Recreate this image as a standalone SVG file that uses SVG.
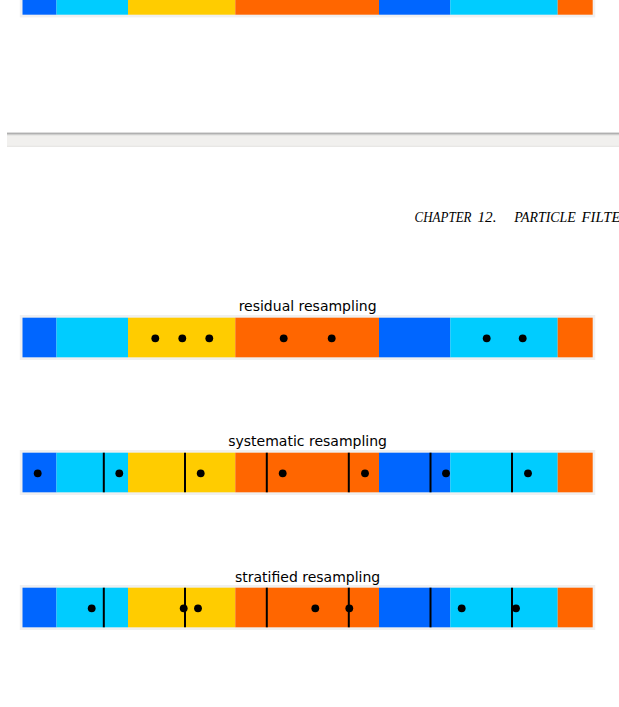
<svg xmlns="http://www.w3.org/2000/svg" xmlns:xlink="http://www.w3.org/1999/xlink" width="619" height="707" viewBox="0 0 619 707">
<style>
.frame{fill:#f0f0f0}
.b{fill:#0066ff}.c{fill:#00ccff}.y{fill:#ffcc00}.o{fill:#ff6600}
.dot{fill:#000}
.tick{stroke:#000;stroke-width:2}
.title{font-family:"DejaVu Sans",sans-serif;font-size:14px;fill:#000;text-anchor:middle}
.hdr{font-family:"Liberation Serif",serif;font-style:italic;font-size:14px;fill:#000}
</style>
<defs>
<g id="bar">
<rect class="frame" x="19.8" y="-2.7" width="575.5" height="45"/>
<rect class="b" x="22.5" y="0" width="34" height="39.6"/>
<rect class="c" x="56.5" y="0" width="71.5" height="39.6"/>
<rect class="y" x="128" y="0" width="107.3" height="39.6"/>
<rect class="o" x="235.3" y="0" width="143.7" height="39.6"/>
<rect class="b" x="379" y="0" width="71.3" height="39.6"/>
<rect class="c" x="450.3" y="0" width="107.4" height="39.6"/>
<rect class="o" x="557.7" y="0" width="35" height="39.6"/>
</g>
<g id="ticks">
<line class="tick" x1="103.8" y1="0" x2="103.8" y2="39.6"/>
<line class="tick" x1="185" y1="0" x2="185" y2="39.6"/>
<line class="tick" x1="266.8" y1="0" x2="266.8" y2="39.6"/>
<line class="tick" x1="348.8" y1="0" x2="348.8" y2="39.6"/>
<line class="tick" x1="430.5" y1="0" x2="430.5" y2="39.6"/>
<line class="tick" x1="512" y1="0" x2="512" y2="39.6"/>
</g>
</defs>

<g id="top-bar">
<use xlink:href="#bar" href="#bar" transform="translate(0,-24.9)"/>
</g>

<g id="page-separator">
<rect x="7" y="132.7" width="612" height="1" fill="#8e8e8e"/>
<rect x="7" y="133.7" width="612" height="1" fill="#b4b4b4"/>
<rect x="7" y="134.7" width="612" height="1" fill="#d6d6d4"/>
<rect x="7" y="135.7" width="612" height="10" fill="#f1f0ee"/>
<rect x="7" y="145.7" width="612" height="1" fill="#dedddb"/>
</g>

<g id="header">
<text class="hdr" y="221.5"><tspan x="414.5" textLength="57" lengthAdjust="spacingAndGlyphs">CHAPTER</tspan><tspan x="477.5" textLength="19" lengthAdjust="spacingAndGlyphs">12.</tspan><tspan x="514.3" textLength="61.5" lengthAdjust="spacingAndGlyphs">PARTICLE</tspan><tspan x="581.5" textLength="39" lengthAdjust="spacingAndGlyphs">FILTE</tspan></text>
</g>

<g id="residual">
<text class="title" x="307.6" y="311">residual resampling</text>
<use xlink:href="#bar" href="#bar" transform="translate(0,317.7)"/>
<g transform="translate(0,338.3)">
<circle class="dot" cx="155.3" cy="0" r="3.9"/>
<circle class="dot" cx="182.3" cy="0" r="3.9"/>
<circle class="dot" cx="209.3" cy="0" r="3.9"/>
<circle class="dot" cx="283.7" cy="0" r="3.9"/>
<circle class="dot" cx="331.7" cy="0" r="3.9"/>
<circle class="dot" cx="486.7" cy="0" r="3.9"/>
<circle class="dot" cx="522.7" cy="0" r="3.9"/>
</g>
</g>

<g id="systematic">
<text class="title" x="307.6" y="446">systematic resampling</text>
<use xlink:href="#bar" href="#bar" transform="translate(0,452.7)"/>
<use xlink:href="#ticks" href="#ticks" transform="translate(0,452.7)"/>
<g transform="translate(0,473.3)">
<circle class="dot" cx="37.7" cy="0" r="3.9"/>
<circle class="dot" cx="119.3" cy="0" r="3.9"/>
<circle class="dot" cx="200.7" cy="0" r="3.9"/>
<circle class="dot" cx="282.7" cy="0" r="3.9"/>
<circle class="dot" cx="365" cy="0" r="3.9"/>
<circle class="dot" cx="446" cy="0" r="3.9"/>
<circle class="dot" cx="528" cy="0" r="3.9"/>
</g>
</g>

<g id="stratified">
<text class="title" x="307.6" y="581.5">stratified resampling</text>
<use xlink:href="#bar" href="#bar" transform="translate(0,587.7)"/>
<use xlink:href="#ticks" href="#ticks" transform="translate(0,587.7)"/>
<g transform="translate(0,608.3)">
<circle class="dot" cx="91.7" cy="0" r="3.9"/>
<circle class="dot" cx="183.7" cy="0" r="3.9"/>
<circle class="dot" cx="198" cy="0" r="3.9"/>
<circle class="dot" cx="315.3" cy="0" r="3.9"/>
<circle class="dot" cx="349.3" cy="0" r="3.9"/>
<circle class="dot" cx="461.7" cy="0" r="3.9"/>
<circle class="dot" cx="516" cy="0" r="3.9"/>
</g>
</g>
</svg>
